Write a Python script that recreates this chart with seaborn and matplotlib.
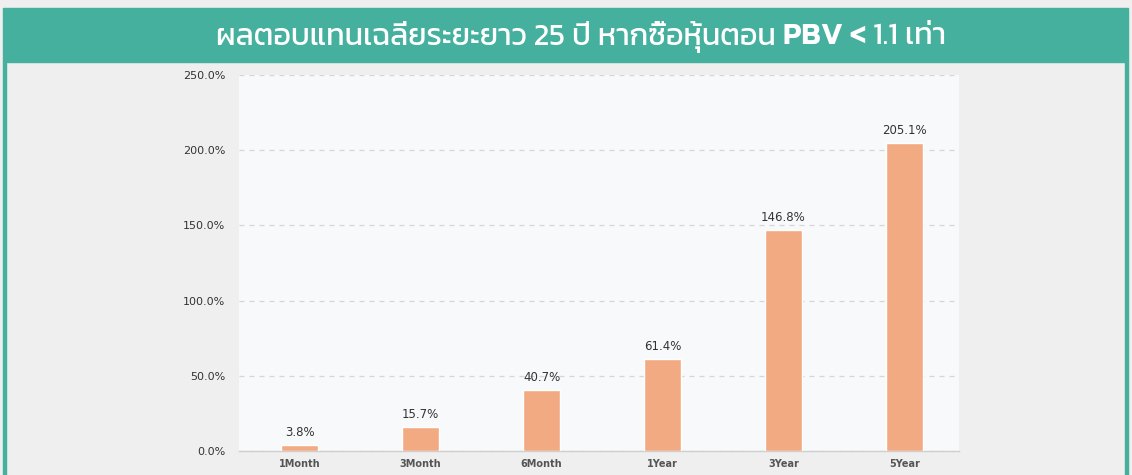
import matplotlib
matplotlib.use("Agg")
import matplotlib.pyplot as plt
from matplotlib.patches import Rectangle
from matplotlib import font_manager
import seaborn as sns
import pandas as pd

# ข้อมูลจากกราฟ
periods = ['1Month', '3Month', '6Month', '1Year', '3Year', '5Year']
returns = [3.8, 15.7, 40.7, 61.4, 146.8, 205.1]
y_ticks = [0, 50, 100, 150, 200, 250]
title_parts = ['ผลตอบแทนเฉลี่ยระยะยาว 25 ปี หากซื้อหุ้นตอน ', 'PBV <', ' 1.1 เท่า']

df = pd.DataFrame({'period': periods, 'ret': returns})

# หาฟอนต์ไทยที่มีในเครื่อง
installed = {f.name for f in font_manager.fontManager.ttflist}
thai_font = next((n for n in ['Kanit', 'Prompt', 'Noto Sans Thai', 'Athiti', 'Bai Jamjuree']
                  if n in installed), 'DejaVu Sans')

sns.set_theme(style='white')
plt.rcParams['font.family'] = ['DejaVu Sans', thai_font]

fig = plt.figure(figsize=(11.32, 4.75), dpi=100)
fig.patch.set_facecolor('#efefef')

# แถบหัวเรื่องสีเขียว + ขอบซ้ายขวา
teal = '#45b09e'
fig.add_artist(Rectangle((3 / 1132, 1 - 62 / 475), 1125 / 1132, 54 / 475,
                         transform=fig.transFigure, color=teal, zorder=0))
fig.add_artist(Rectangle((3 / 1132, 0), 3 / 1132, 1 - 62 / 475,
                         transform=fig.transFigure, color=teal, zorder=0))
fig.add_artist(Rectangle((1125 / 1132, 0), 3 / 1132, 1 - 62 / 475,
                         transform=fig.transFigure, color=teal, zorder=0))

# หัวเรื่อง: แยกส่วน PBV เป็นตัวหนา
weights = ['normal', 'semibold', 'normal']
texts = [fig.text(0, 1 - 37 / 475, p, ha='left', va='center', color='white',
                  fontsize=22, family=[thai_font], fontweight=w)
         for p, w in zip(title_parts, weights)]
renderer = fig.canvas.get_renderer()
widths = [t.get_window_extent(renderer).width / 1132 for t in texts]
x = 581 / 1132 - sum(widths) / 2
for t, w in zip(texts, widths):
    t.set_x(x)
    x += w

ax = fig.add_axes([239 / 1132, 1 - 451 / 475, 720 / 1132, 376 / 475])
ax.set_facecolor('#f8f9fa')

sns.barplot(data=df, x='period', y='ret', color='#f2aa83', width=0.31,
            saturation=1, ax=ax, zorder=3)

for i, v in enumerate(returns):
    ax.text(i, v + 4, f'{v:.1f}%', ha='center', va='bottom', fontsize=8.5,
            color='#333333', zorder=4)

ax.set_ylim(0, 250)
ax.set_xlim(-0.5, 5.45)
ax.set_yticks(y_ticks)
ax.set_yticklabels([f'{t:.1f}%' for t in y_ticks], fontsize=8, color='#333333')
ax.tick_params(axis='x', labelsize=7, colors='#555555', length=0, pad=6)
ax.tick_params(axis='y', length=0, pad=10)
for lbl in ax.get_xticklabels():
    lbl.set_fontweight('bold')
ax.set_xlabel('')
ax.set_ylabel('')
ax.yaxis.grid(True, linestyle=(0, (4, 4)), color='#d6d6d6', linewidth=0.9, zorder=0)
ax.set_axisbelow(True)
for s in ['top', 'right', 'left']:
    ax.spines[s].set_visible(False)
ax.spines['bottom'].set_color('#cfcfcf')
ax.spines['bottom'].set_linewidth(1)

fig.savefig('out.png', dpi=100, facecolor=fig.get_facecolor())
